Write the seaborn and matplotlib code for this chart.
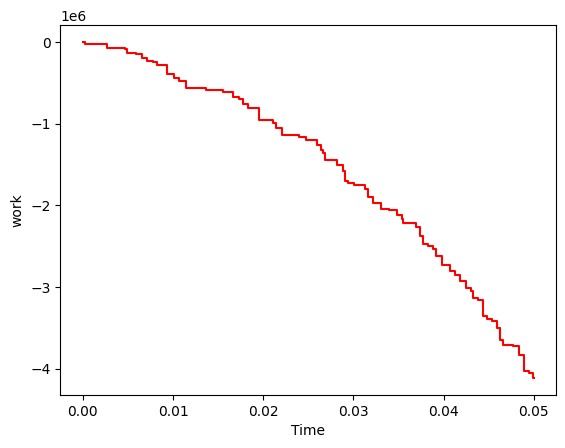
import numpy as np
import pandas as pd
import matplotlib
matplotlib.use("Agg")
import matplotlib.pyplot as plt
import seaborn as sns

# step points (time, work)
time = [0.0, 0.00025, 0.00266, 0.00469, 0.00494, 0.00591, 0.00654, 0.00716,
        0.00776, 0.00827, 0.00931, 0.01016, 0.01071, 0.01142, 0.01367, 0.01552,
        0.01663, 0.01736, 0.01774, 0.01836, 0.01955, 0.02113, 0.02143, 0.02206,
        0.02401, 0.02476, 0.02601, 0.02639, 0.02659, 0.02686, 0.02816, 0.02882,
        0.02908, 0.02938, 0.03008, 0.03130, 0.03166, 0.03222, 0.03307, 0.03399,
        0.03481, 0.03537, 0.03554, 0.03695, 0.03739, 0.03776, 0.03831, 0.03887,
        0.03917, 0.03980, 0.04072, 0.04128, 0.04183, 0.04249, 0.04302, 0.04324,
        0.04386, 0.04435, 0.04479, 0.04534, 0.04597, 0.04626, 0.04663, 0.04767,
        0.04840, 0.04893, 0.04951, 0.04989, 0.05]
work = [0, -21e3, -66e3, -86e3, -135e3, -148e3, -193e3, -226e3,
        -246e3, -276e3, -394e3, -443e3, -473e3, -566e3, -583e3, -615e3,
        -677e3, -694e3, -751e3, -800e3, -956e3, -990e3, -1046e3, -1132e3,
        -1162e3, -1194e3, -1264e3, -1317e3, -1362e3, -1449e3, -1510e3, -1572e3,
        -1695e3, -1723e3, -1748e3, -1797e3, -1900e3, -1974e3, -2043e3, -2055e3,
        -2113e3, -2166e3, -2220e3, -2261e3, -2372e3, -2474e3, -2495e3, -2535e3,
        -2618e3, -2732e3, -2802e3, -2852e3, -2926e3, -3008e3, -3049e3, -3131e3,
        -3159e3, -3356e3, -3385e3, -3418e3, -3500e3, -3643e3, -3705e3, -3726e3,
        -3836e3, -4025e3, -4054e3, -4116e3, -4116e3]

df = pd.DataFrame({"Time": time, "work": work})

fig = plt.figure(figsize=(5.65, 4.48), dpi=100)
ax = fig.add_axes([60.3 / 565, 53 / 448, 496 / 565, 369.6 / 448])

sns.lineplot(data=df, x="Time", y="work", color="red", lw=1.5,
             drawstyle="steps-post", sort=False, ax=ax)

ax.set_xlabel("Time")
ax.set_ylabel("work")

fig.savefig("out.png", dpi=100)
